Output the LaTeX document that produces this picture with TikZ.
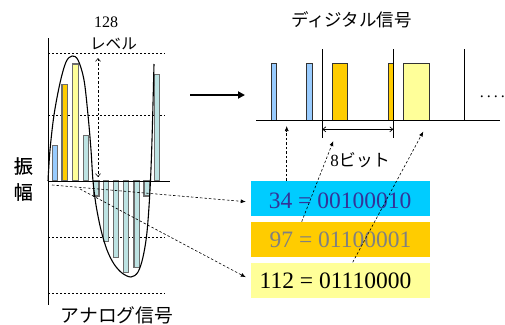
\documentclass[tikz,border=0pt]{standalone}
\usepackage{fontspec}
\setmainfont{Liberation Serif}
\newfontfamily\jp{Noto Sans CJK JP}
\newfontfamily\jpb[FakeBold=0.6]{Noto Sans CJK JP}
\usetikzlibrary{arrows.meta}
\definecolor{cBlueBar}{HTML}{99CCFF}
\definecolor{cOrange}{HTML}{FFCC00}
\definecolor{cYellow}{HTML}{FFFF99}
\definecolor{cTeal}{HTML}{BDE3E3}
\definecolor{cBox}{HTML}{00CCFF}
\definecolor{cBoxText}{HTML}{333399}
\definecolor{cGrayText}{HTML}{808080}
\begin{document}
\begin{tikzpicture}[x=1pt,y=-1pt,
  gridline/.style={dash pattern=on 2pt off 2pt, line width=0.7pt},
  bar/.style={draw=gray!85!black, line width=1.1pt},
  pulse/.style={draw=black!80, line width=0.6pt},
  dasharrow/.style={dash pattern=on 2.5pt off 2pt, line width=0.6pt, -{Latex[length=5pt,width=4pt]}},
  openarrow/.style={{Straight Barb[length=3pt,width=5pt]}-{Straight Barb[length=3pt,width=5pt]}},
  codebox/.style={minimum width=179pt, minimum height=35pt, inner sep=0pt},
  codetext/.style={anchor=base east, inner sep=0pt, font=\fontsize{23.5}{28}\selectfont},
  jptext/.style={inner sep=0pt, font=\jp\fontsize{#1}{#1}\selectfont}
]
\useasboundingbox (0,0) rectangle (505,324);

% ---------- analog part ----------
\foreach \y in {53,115,237,293} \draw[gridline] (48,\y) -- (165,\y);

% positive bars
\draw[bar, fill=cBlueBar] (52.3,181) rectangle (57.3,145.7);
\draw[bar, fill=cOrange] (62,181) rectangle (67.3,84.3);
\draw[bar, fill=cYellow] (72.3,181) rectangle (78.3,64);
\draw[bar, fill=cTeal] (83.3,181) rectangle (88.3,135.7);
\draw[bar, fill=cTeal] (154.3,181) rectangle (159.3,74.3);
% negative bars
\draw[bar, fill=cTeal] (93.3,181) rectangle (99,196);
\draw[bar, fill=cTeal] (103.3,181) rectangle (108.3,241.7);
\draw[bar, fill=cTeal] (113.3,181) rectangle (118.7,257.3);
\draw[bar, fill=cTeal] (123.3,181) rectangle (128.7,272.3);
\draw[bar, fill=cTeal] (134,181) rectangle (139.3,267.7);
\draw[bar, fill=cTeal] (144,181) rectangle (149.3,196);

% axes
\coordinate (axTop) at (48,38);
\coordinate (axBot) at (48,305);
\coordinate (zeroL) at (48,181);
\coordinate (zeroR) at (170,181);
\draw[line width=0.8pt] (axTop) -- (axBot);
\draw[line width=0.8pt] (zeroL) -- (zeroR);

% curve
\draw[line width=1.1pt] plot[smooth, tension=0.55] coordinates {
 (48,181) (50,150) (54,115) (60,83) (66,62) (72,56) (78,60) (84,80) (88,115) (91,150) (93,181)
 (96,205) (101,230) (107,250) (114,264) (122,273) (131,277) (138,272) (143,257) (147,232)
 (150,190) (152,140) (154,64)};

% level arrow
\coordinate (lvTop) at (98,58);
\coordinate (lvBot) at (98,177);
\draw[dash pattern=on 2.5pt off 2pt, line width=0.6pt, openarrow] (lvTop) -- (lvBot);
\node[inner sep=0pt, font=\fontsize{16}{16}\selectfont] (n128) at (106,22.5) {128};
\node[jptext=15.6] (level) at (113.5,44) {レベル};

\node[inner sep=0pt, font=\jpb\fontsize{19}{26}\selectfont, align=center] (amp) at (23.3,179) {振\\幅};
\node[jptext=18.8] (analog) at (117,315) {アナログ信号};

% ---------- big arrow ----------
\coordinate (bigA) at (190,95);
\coordinate (bigB) at (245,95);
\draw[line width=2pt, -{Triangle[length=7pt,width=7pt]}] (bigA) -- (bigB);

% ---------- digital part ----------
\node[jptext=17.5] (digital) at (351.5,20) {ディジタル信号};

\draw[pulse, fill=cBlueBar] (271.3,120) rectangle (276.7,63.3);
\draw[pulse, fill=cBlueBar] (306.7,120) rectangle (312,63.3);
\draw[pulse, fill=cOrange] (332.3,120) rectangle (347.3,63.3);
\draw[pulse, fill=cOrange] (388.3,120) rectangle (393.3,63.3);
\draw[pulse, fill=cYellow] (403.3,120) rectangle (429,63.3);

\coordinate (baseL) at (256,120);
\coordinate (baseR) at (500,120);
\draw[line width=0.8pt] (baseL) -- (baseR);
\coordinate (v1t) at (322.3,49); \coordinate (v1b) at (322.3,138);
\coordinate (v2t) at (393.3,49); \coordinate (v2b) at (393.3,138);
\coordinate (v3t) at (464.3,49); \coordinate (v3b) at (464.3,120);
\draw[line width=0.8pt] (v1t) -- (v1b);
\draw[line width=0.8pt] (v2t) -- (v2b);
\draw[line width=0.8pt] (v3t) -- (v3b);
\coordinate (bitL) at (322.3,129.3);
\coordinate (bitR) at (393.3,129.3);
\draw[line width=0.7pt, openarrow] (bitL) -- (bitR);
\node[inner sep=0pt, font=\fontsize{17}{17}\selectfont] (bits) at (360,160) {8{\jp ビット}};
\node[inner sep=0pt, font=\fontsize{16}{16}\selectfont] (dots) at (492.3,97) {.\hspace{3pt}.\hspace{3pt}.\hspace{3pt}.};

% ---------- code boxes ----------
\node[codebox, fill=cBox] (box1) at (340.5,198.2) {};
\node[codebox, fill=cOrange] (box2) at (340.5,239.3) {};
\node[codebox, fill=cYellow] (box3) at (340.5,280.2) {};
\node[codetext, text=cBoxText] (t1) at (411.5,208.3) {34 = 00100010};
\node[codetext, text=cGrayText] (t2) at (411.5,247.3) {97 = 01100001};
\node[codetext, text=black] (t3) at (411.5,288.3) {112 = 01110000};

% dashed arrows from boxes to the pulses
\coordinate (s1) at (286.7,180.7); \coordinate (e1) at (286.7,126);
\coordinate (s2) at (301.7,221.7); \coordinate (e2) at (333.3,141);
\coordinate (s3) at (352.7,262.3); \coordinate (e3) at (423.3,131.5);
\draw[dasharrow] (s1) -- (e1);
\draw[dasharrow] (s2) -- (e2);
\draw[dasharrow] (s3) -- (e3);

% dashed arrows from samples to boxes
\coordinate (sa) at (52,185);
\coordinate (sb) at (80,189);
\coordinate (ea) at ([xshift=-5pt,yshift=-3.5pt]box1.west);
\coordinate (eb) at ([xshift=-5pt,yshift=3pt]box3.west);
\draw[dasharrow] (sa) -- (ea);
\draw[dasharrow] (sb) -- (eb);
\end{tikzpicture}
\end{document}
